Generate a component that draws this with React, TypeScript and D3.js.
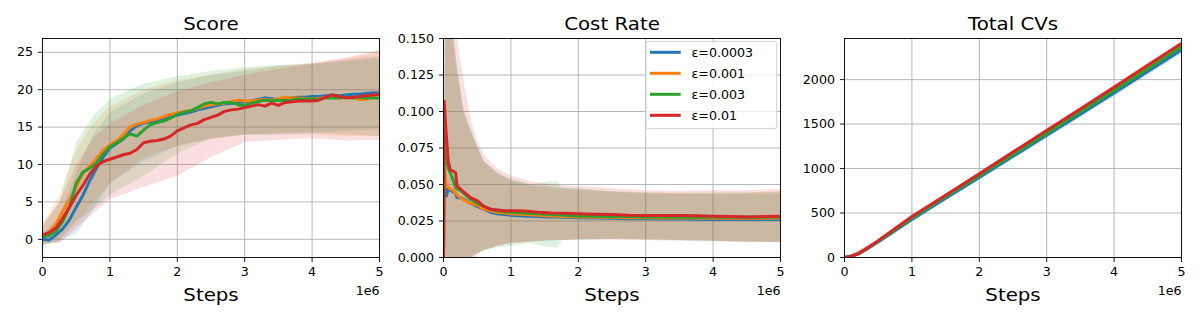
import React from "react";
import * as d3 from "d3";

// ---------- data ----------
const SERIES_LABELS = ["ε=0.0003", "ε=0.001", "ε=0.003", "ε=0.01"];
const COLORS = ["#1f77b4", "#ff7f0e", "#2ca02c", "#d62728"];
const STEP_TICKS = [0, 1, 2, 3, 4, 5]; // ×1e6
const SCORE_TICKS = [0, 5, 10, 15, 20, 25];
const COST_TICKS = [0, 0.025, 0.05, 0.075, 0.1, 0.125, 0.15];
const CV_TICKS = [0, 500, 1000, 1500, 2000];

// Score
const scoreX = [0, 0.1, 0.2, 0.3, 0.4, 0.5, 0.6, 0.7, 0.8, 0.9, 1.0, 1.1, 1.2, 1.3, 1.4, 1.5, 1.6, 1.7, 1.8, 1.9, 2.0, 2.1, 2.2, 2.3, 2.4, 2.5, 2.6, 2.7, 2.8, 2.9, 3.0, 3.1, 3.2, 3.3, 3.4, 3.5, 3.6, 3.7, 3.8, 3.9, 4.0, 4.1, 4.2, 4.3, 4.4, 4.5, 4.6, 4.7, 4.8, 4.9, 5.0];
const scoreBlue = [0.0, -0.1, 0.6, 1.4, 2.6, 4.3, 5.9, 7.8, 9.5, 11.0, 12.2, 12.8, 13.4, 14.5, 15.2, 15.5, 15.7, 15.9, 16.2, 16.4, 16.6, 16.8, 17.0, 17.3, 17.5, 17.7, 17.9, 18.1, 18.2, 18.3, 18.4, 18.5, 18.7, 18.9, 18.8, 18.7, 18.7, 18.9, 19.0, 19.0, 19.1, 19.1, 19.2, 19.3, 19.2, 19.3, 19.4, 19.4, 19.5, 19.6, 19.6];
const scoreOrange = [0.5, 1.0, 2.0, 3.8, 5.3, 7.0, 8.8, 9.8, 10.8, 11.9, 12.6, 13.2, 14.0, 15.0, 15.4, 15.6, 15.9, 16.1, 16.4, 16.7, 16.9, 17.1, 17.2, 17.5, 17.8, 18.0, 18.1, 18.2, 18.4, 18.6, 18.5, 18.5, 18.6, 18.7, 18.6, 18.8, 19.0, 18.9, 18.9, 18.8, 18.8, 18.8, 19.0, 19.0, 18.9, 19.0, 18.9, 18.7, 18.7, 19.1, 19.5];
const scoreGreen = [0.3, 0.5, 1.1, 2.4, 4.3, 7.5, 9.0, 9.5, 10.2, 11.4, 12.4, 12.9, 13.5, 14.1, 13.8, 14.6, 15.3, 15.6, 15.8, 16.2, 16.7, 17.0, 17.2, 17.6, 18.1, 18.3, 18.1, 18.3, 18.3, 18.0, 17.9, 18.2, 18.4, 18.6, 18.5, 18.6, 18.5, 18.6, 18.8, 18.7, 18.8, 18.7, 18.9, 18.9, 18.9, 19.0, 18.9, 19.0, 18.9, 18.9, 18.9];
const scoreRed = [0.6, 0.9, 1.5, 2.8, 4.3, 5.9, 7.2, 8.7, 9.8, 10.4, 10.7, 11.0, 11.3, 11.5, 12.0, 12.9, 13.1, 13.2, 13.4, 13.8, 14.5, 14.9, 15.3, 15.5, 16.0, 16.3, 16.6, 17.1, 17.3, 17.4, 17.6, 17.8, 18.0, 17.8, 18.2, 17.9, 18.3, 18.4, 18.5, 18.5, 18.5, 18.6, 19.0, 19.3, 19.1, 18.9, 19.0, 19.1, 19.2, 19.3, 19.4];

const scoreBandX = [0, 0.25, 0.5, 0.75, 1, 1.5, 2, 2.5, 3, 3.5, 4, 4.5, 5];
const scoreBlueLo = [-0.8, -0.3, 0.8, 4.0, 7.5, 10.5, 12.5, 13.5, 14.0, 14.0, 14.2, 14.5, 14.7];
const scoreBlueHi = [0.8, 3.0, 9.0, 14.0, 17.0, 19.5, 21.0, 22.0, 22.5, 23.2, 23.5, 24.0, 24.5];
const scoreOrangeLo = [-0.8, 0.0, 2.0, 5.0, 7.5, 11.0, 12.5, 13.3, 14.0, 14.0, 14.0, 13.8, 13.8];
const scoreOrangeHi = [2.0, 6.0, 12.0, 15.5, 17.8, 20.0, 21.3, 22.0, 22.8, 23.2, 23.6, 24.2, 25.0];
const scoreGreenLo = [-0.8, -0.2, 2.5, 4.0, 6.0, 8.5, 11.5, 13.5, 14.0, 14.2, 14.3, 14.0, 13.8];
const scoreGreenHi = [1.5, 5.0, 13.0, 16.5, 18.8, 20.8, 21.8, 22.5, 23.0, 23.3, 23.4, 23.8, 24.2];
const scoreRedLo = [-0.5, -0.5, 1.5, 3.5, 5.4, 7.0, 8.5, 11.0, 13.0, 13.3, 13.5, 13.2, 13.3];
const scoreRedHi = [2.0, 5.0, 10.0, 13.5, 15.5, 18.0, 19.8, 21.0, 22.0, 22.8, 23.5, 24.3, 25.3];

// Cost Rate
const costX = [0, 0.01, 0.04, 0.07, 0.1, 0.15, 0.18, 0.2, 0.25, 0.3, 0.4, 0.5, 0.6, 0.7, 0.8, 0.9, 1.0, 1.2, 1.4, 1.6, 1.8, 2.0, 2.25, 2.5, 2.75, 3.0, 3.25, 3.5, 3.75, 4.0, 4.25, 4.5, 4.75, 5.0];
const costBlue = [0, 0.060, 0.042, 0.047, 0.046, 0.045, 0.044, 0.041, 0.041, 0.040, 0.037, 0.035, 0.033, 0.031, 0.030, 0.0295, 0.029, 0.0285, 0.028, 0.0278, 0.0275, 0.0272, 0.027, 0.0268, 0.0266, 0.0265, 0.0264, 0.0265, 0.0262, 0.026, 0.0262, 0.026, 0.026, 0.026];
const costOrange = [0, 0.063, 0.049, 0.048, 0.047, 0.046, 0.044, 0.043, 0.041, 0.0395, 0.037, 0.036, 0.033, 0.032, 0.031, 0.0305, 0.030, 0.0295, 0.029, 0.0285, 0.028, 0.0278, 0.0276, 0.0275, 0.0273, 0.0272, 0.027, 0.0272, 0.027, 0.0268, 0.0268, 0.027, 0.0268, 0.027];
const costGreen = [0, 0.074, 0.066, 0.061, 0.058, 0.052, 0.048, 0.047, 0.046, 0.044, 0.040, 0.037, 0.035, 0.033, 0.032, 0.0315, 0.031, 0.0305, 0.030, 0.0295, 0.029, 0.0285, 0.0283, 0.028, 0.028, 0.0278, 0.0278, 0.0276, 0.0278, 0.0276, 0.0275, 0.0278, 0.0276, 0.0278];
const costRed = [0, 0.107, 0.085, 0.066, 0.060, 0.059, 0.058, 0.049, 0.047, 0.045, 0.041, 0.039, 0.035, 0.033, 0.0325, 0.032, 0.032, 0.0318, 0.031, 0.0305, 0.0303, 0.030, 0.0297, 0.0295, 0.029, 0.0288, 0.0287, 0.0288, 0.0286, 0.0283, 0.028, 0.0278, 0.028, 0.0282];

const costBandX = [0, 0.02, 0.1, 0.2, 0.3, 0.4, 0.5, 0.6, 0.8, 1.0, 1.3, 1.55, 1.6, 1.7, 1.75, 2.0, 2.5, 3.0, 3.5, 4.0, 4.5, 5.0];
const costBlueLo = [0, -0.04, -0.06, -0.04, -0.01, 0.0, 0.003, 0.005, 0.008, 0.010, 0.011, 0.0115, 0.0115, 0.012, 0.012, 0.012, 0.0125, 0.012, 0.0115, 0.0112, 0.011, 0.0105];
const costBlueHi = [0, 0.16, 0.17, 0.13, 0.10, 0.088, 0.076, 0.066, 0.058, 0.053, 0.050, 0.049, 0.0485, 0.048, 0.048, 0.047, 0.045, 0.044, 0.0435, 0.0435, 0.0435, 0.044];
const costOrangeLo = [0, -0.03, -0.05, -0.03, -0.005, 0.001, 0.003, 0.006, 0.008, 0.010, 0.011, 0.0115, 0.012, 0.012, 0.012, 0.0125, 0.0125, 0.012, 0.012, 0.0115, 0.011, 0.0105];
const costOrangeHi = [0, 0.15, 0.16, 0.125, 0.098, 0.086, 0.075, 0.065, 0.057, 0.052, 0.049, 0.048, 0.0475, 0.047, 0.047, 0.046, 0.045, 0.0445, 0.0445, 0.044, 0.0445, 0.0455];
const costGreenLo = [0, -0.03, -0.05, -0.03, -0.005, 0.0, 0.003, 0.005, 0.007, 0.008, 0.010, 0.007, 0.007, 0.007, 0.012, 0.0125, 0.013, 0.0125, 0.012, 0.0115, 0.011, 0.011];
const costGreenHi = [0, 0.18, 0.17, 0.13, 0.10, 0.088, 0.076, 0.066, 0.058, 0.054, 0.050, 0.052, 0.052, 0.052, 0.048, 0.0475, 0.0455, 0.0445, 0.044, 0.0445, 0.0445, 0.045];
const costRedLo = [0, -0.01, -0.06, -0.05, -0.02, -0.005, 0.002, 0.005, 0.008, 0.010, 0.011, 0.012, 0.012, 0.012, 0.012, 0.0125, 0.0125, 0.0125, 0.012, 0.0115, 0.0105, 0.0105];
const costRedHi = [0, 0.22, 0.19, 0.15, 0.12, 0.095, 0.08, 0.07, 0.061, 0.056, 0.052, 0.0505, 0.05, 0.0495, 0.0495, 0.049, 0.0475, 0.046, 0.0455, 0.046, 0.046, 0.047];

// Total CVs
const cvX = [0, 0.1, 0.2, 0.3, 0.4, 0.5, 1.0, 1.5, 2.0, 2.5, 3.0, 3.5, 4.0, 4.5, 5.0];
const cvBlue = [0, 12, 38, 80, 128, 175, 428, 665, 900, 1138, 1375, 1610, 1850, 2090, 2331];
const cvOrange = [0, 14, 41, 86, 135, 185, 450, 688, 925, 1165, 1405, 1645, 1885, 2128, 2385];
const cvGreen = [0, 13, 40, 84, 133, 182, 445, 682, 918, 1157, 1397, 1635, 1876, 2118, 2370];
const cvRed = [0, 15, 42, 88, 138, 188, 460, 700, 940, 1185, 1428, 1670, 1915, 2160, 2407];

const cvBandX = [0, 0.5, 1, 2, 3, 4, 5];
const cvBlueLo = [0, 160, 405, 870, 1340, 1810, 2290];
const cvBlueHi = [0, 190, 450, 930, 1410, 1890, 2370];
const cvOrangeLo = [0, 172, 432, 905, 1385, 1862, 2355];
const cvOrangeHi = [0, 198, 468, 945, 1425, 1908, 2415];
const cvGreenLo = [0, 170, 428, 898, 1378, 1855, 2340];
const cvGreenHi = [0, 195, 462, 938, 1416, 1897, 2400];
const cvRedLo = [0, 175, 440, 915, 1400, 1885, 2370];
const cvRedHi = [0, 200, 480, 965, 1455, 1945, 2440];

// ---------- layout ----------
const FONT = "DejaVu Sans";
const SX = 1.1;
const TOP = 38.5;
const BOTTOM = 257.5;
const PANEL_LEFT = [42.5, 443.5, 844.5];
const PANEL_W = 337;
const TICK_FS = 11.5;
const TITLE_FS = 18;
const LINE_W = 3;

type TProps = { x: number; y: number; size: number; anchor?: string; children: any };
function T({ x, y, size, anchor = "middle", children }: TProps) {
  return (
    <text
      transform={`translate(${x},${y}) scale(${SX},1)`}
      fontSize={size}
      textAnchor={anchor}
      fontFamily={FONT}
      fill="#000"
    >
      {children}
    </text>
  );
}

type Band = { x: number[]; lo: number[]; hi: number[] };
type Line = { x: number[]; y: number[] };

type PanelProps = {
  id: string;
  left: number;
  title: string;
  yDomain: [number, number];
  yTicks: number[];
  yFmt: (v: number) => string;
  lines: Line[];
  bands: Band[];
  legend?: boolean;
};

function Panel({ id, left, title, yDomain, yTicks, yFmt, lines, bands, legend }: PanelProps) {
  const right = left + PANEL_W;
  const x = d3.scaleLinear().domain([0, 5]).range([left, right]);
  const y = d3.scaleLinear().domain(yDomain).range([BOTTOM, TOP]);
  const line = d3
    .line<[number, number]>()
    .x((d) => x(d[0]))
    .y((d) => y(d[1]));
  const area = d3
    .area<[number, number, number]>()
    .x((d) => x(d[0]))
    .y0((d) => y(d[1]))
    .y1((d) => y(d[2]));
  const cx = (left + right) / 2;
  return (
    <g>
      <defs>
        <clipPath id={id}>
          <rect x={left} y={TOP} width={PANEL_W} height={BOTTOM - TOP} />
        </clipPath>
      </defs>
      <rect x={left} y={TOP} width={PANEL_W} height={BOTTOM - TOP} fill="#fff" />
      {STEP_TICKS.map((t) => (
        <line key={"gx" + t} x1={x(t)} x2={x(t)} y1={TOP} y2={BOTTOM} stroke="#b0b0b0" strokeWidth={0.9} />
      ))}
      {yTicks.map((t) => (
        <line key={"gy" + t} x1={left} x2={right} y1={y(t)} y2={y(t)} stroke="#b0b0b0" strokeWidth={0.9} />
      ))}
      <g clipPath={`url(#${id})`}>
        {bands.map((b, i) => (
          <path
            key={"b" + i}
            d={area(b.x.map((v, j) => [v, b.lo[j], b.hi[j]] as [number, number, number])) || ""}
            fill={COLORS[i]}
            fillOpacity={0.15}
            stroke="none"
          />
        ))}
        {lines.map((l, i) => (
          <path
            key={"l" + i}
            d={line(l.x.map((v, j) => [v, l.y[j]] as [number, number])) || ""}
            fill="none"
            stroke={COLORS[i]}
            strokeWidth={LINE_W}
            strokeLinejoin="round"
          />
        ))}
      </g>
      <rect x={left} y={TOP} width={PANEL_W} height={BOTTOM - TOP} fill="none" stroke="#000" strokeWidth={0.9} />
      {STEP_TICKS.map((t) => (
        <g key={"tx" + t}>
          <line x1={x(t)} x2={x(t)} y1={BOTTOM} y2={BOTTOM + 4.5} stroke="#000" strokeWidth={0.9} />
          <T x={x(t)} y={275.5} size={TICK_FS}>
            {String(t)}
          </T>
        </g>
      ))}
      {yTicks.map((t) => (
        <g key={"ty" + t}>
          <line x1={left - 4.5} x2={left} y1={y(t)} y2={y(t)} stroke="#000" strokeWidth={0.9} />
          <T x={left - 9.5} y={y(t) + 4.2} size={TICK_FS} anchor="end">
            {yFmt(t)}
          </T>
        </g>
      ))}
      <T x={right} y={295} size={TICK_FS} anchor="end">
        1e6
      </T>
      <T x={cx} y={30} size={TITLE_FS}>
        {title}
      </T>
      <T x={cx} y={300.5} size={TITLE_FS}>
        Steps
      </T>
      {legend && (
        <g>
          <rect x={646} y={41.3} width={130.7} height={87.4} rx={2.5} fill="#fff" fillOpacity={0.8} stroke="#cccccc" strokeWidth={0.9} />
          {SERIES_LABELS.map((lab, i) => {
            const ly = 52.3 + i * 21;
            return (
              <g key={"lg" + i}>
                <line x1={650} x2={680.7} y1={ly} y2={ly} stroke={COLORS[i]} strokeWidth={LINE_W} />
                <T x={691.5} y={ly + 4.2} size={TICK_FS} anchor="start">
                  {lab}
                </T>
              </g>
            );
          })}
        </g>
      )}
    </g>
  );
}

export default function App() {
  const fmtScore = (v: number) => d3.format("d")(v);
  const fmtCost = (v: number) => d3.format(".3f")(v);
  const fmtCv = (v: number) => d3.format("d")(v);
  return (
    <svg
      width={1200}
      height={320}
      viewBox="0 0 1200 320"
      style={{ position: "absolute", left: 0, top: 0, background: "#fff" }}
    >
      <rect x={0} y={0} width={1200} height={320} fill="#fff" />
      <Panel
        id="clip-score"
        left={PANEL_LEFT[0]}
        title="Score"
        yDomain={[-2.43, 26.84]}
        yTicks={SCORE_TICKS}
        yFmt={fmtScore}
        lines={[
          { x: scoreX, y: scoreBlue },
          { x: scoreX, y: scoreOrange },
          { x: scoreX, y: scoreGreen },
          { x: scoreX, y: scoreRed },
        ]}
        bands={[
          { x: scoreBandX, lo: scoreBlueLo, hi: scoreBlueHi },
          { x: scoreBandX, lo: scoreOrangeLo, hi: scoreOrangeHi },
          { x: scoreBandX, lo: scoreGreenLo, hi: scoreGreenHi },
          { x: scoreBandX, lo: scoreRedLo, hi: scoreRedHi },
        ]}
      />
      <Panel
        id="clip-cost"
        left={PANEL_LEFT[1]}
        title="Cost Rate"
        yDomain={[0, 0.15]}
        yTicks={COST_TICKS}
        yFmt={fmtCost}
        legend
        lines={[
          { x: costX, y: costBlue },
          { x: costX, y: costOrange },
          { x: costX, y: costGreen },
          { x: costX, y: costRed },
        ]}
        bands={[
          { x: costBandX, lo: costBlueLo, hi: costBlueHi },
          { x: costBandX, lo: costOrangeLo, hi: costOrangeHi },
          { x: costBandX, lo: costGreenLo, hi: costGreenHi },
          { x: costBandX, lo: costRedLo, hi: costRedHi },
        ]}
      />
      <Panel
        id="clip-cv"
        left={PANEL_LEFT[2]}
        title="Total CVs"
        yDomain={[0, 2462]}
        yTicks={CV_TICKS}
        yFmt={fmtCv}
        lines={[
          { x: cvX, y: cvBlue },
          { x: cvX, y: cvOrange },
          { x: cvX, y: cvGreen },
          { x: cvX, y: cvRed },
        ]}
        bands={[
          { x: cvBandX, lo: cvBlueLo, hi: cvBlueHi },
          { x: cvBandX, lo: cvOrangeLo, hi: cvOrangeHi },
          { x: cvBandX, lo: cvGreenLo, hi: cvGreenHi },
          { x: cvBandX, lo: cvRedLo, hi: cvRedHi },
        ]}
      />
    </svg>
  );
}
